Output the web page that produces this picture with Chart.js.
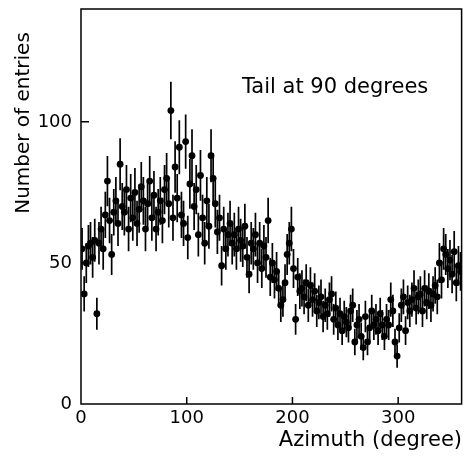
<!DOCTYPE html>
<html>
<head>
<meta charset="utf-8">
<script src="https://cdn.jsdelivr.net/npm/chart.js@4.4.1/dist/chart.umd.min.js"></script>
<style>
  html, body { margin: 0; padding: 0; background: #fff; }
  #wrap { width: 465px; height: 458px; }
</style>
</head>
<body>
<div id="wrap"><canvas id="azChart" width="465" height="458"></canvas></div>
<script>
// histogram: 2 degree bins, entries per bin
const binWidth = 2;
const entries = [
  55, 39, 50, 56, 57, 52, 58, 32, 57, 62,
  55, 67, 79, 65, 53, 68, 72, 64, 85, 70,
  68, 76, 62, 73, 66, 75, 64, 69, 77, 72,
  62, 71, 79, 66, 74, 62, 68, 72, 65, 76,
  80, 71, 104, 66, 84, 73, 91, 67, 64, 93,
  59, 78, 88, 70, 76, 60, 81, 66, 57, 72,
  63, 88, 80, 71, 61, 66, 49, 62, 55, 60,
  64, 57, 60, 55, 62, 58, 56, 63, 52, 46,
  57, 55, 60, 50, 57, 48, 56, 52, 65, 45,
  50, 44, 47, 41, 35, 37, 43, 53, 57, 62,
  48, 30, 45, 40, 41, 38, 43, 35, 42, 37,
  40, 33, 36, 38, 31, 35, 32, 37, 39, 30,
  34, 28, 32, 26, 31, 29, 27, 33, 35, 22,
  28, 30, 24, 20, 31, 22, 27, 33, 28, 30,
  26, 32, 28, 24, 30, 28, 37, 33, 22, 17,
  27, 35, 38, 26, 36, 33, 37, 41, 34, 38,
  39, 33, 41, 36, 40, 35, 39, 42, 38, 50,
  44, 55, 53, 48, 51, 46, 54, 43, 49, 47
];
const xTicks = [0, 100, 200, 300];
const yTicks = [0, 50, 100];
const xLabel = "Azimuth (degree)";
const yLabel = "Number of entries";
const note = "Tail at 90 degrees";

const binCentres = entries.map((_, i) => binWidth / 2 + i * binWidth);
const points = entries.map((n, i) => ({ x: binCentres[i], y: n, err: Math.sqrt(n) }));

// vertical statistical error bars, drawn under the markers
const errorBars = {
  id: "errorBars",
  beforeDatasetsDraw(chart) {
    const { ctx, scales: { x, y } } = chart;
    ctx.save();
    ctx.strokeStyle = "#000";
    ctx.lineWidth = 1.7;
    ctx.beginPath();
    points.forEach((p) => {
      const px = x.getPixelForValue(p.x);
      ctx.moveTo(px, y.getPixelForValue(p.y - p.err));
      ctx.lineTo(px, y.getPixelForValue(p.y + p.err));
      ctx.moveTo(x.getPixelForValue(p.x - binWidth / 2), y.getPixelForValue(p.y));
      ctx.lineTo(x.getPixelForValue(p.x + binWidth / 2), y.getPixelForValue(p.y));
    });
    ctx.stroke();
    ctx.restore();
  },
};

// box frame, inward ticks and the text labels
const frame = {
  id: "frame",
  afterDraw(chart) {
    const { ctx, chartArea: a, scales: { x, y } } = chart;
    ctx.save();
    ctx.strokeStyle = "#000";
    ctx.lineWidth = 1.5;
    ctx.strokeRect(a.left, a.top, a.right - a.left, a.bottom - a.top);
    ctx.beginPath();
    xTicks.slice(1).forEach((v) => {
      const px = x.getPixelForValue(v);
      ctx.moveTo(px, a.bottom);
      ctx.lineTo(px, a.bottom - 7);
    });
    yTicks.slice(1).forEach((v) => {
      const py = y.getPixelForValue(v);
      ctx.moveTo(a.left, py);
      ctx.lineTo(a.left + 8, py);
    });
    ctx.stroke();

    ctx.fillStyle = "#000";
    ctx.font = "21px 'DejaVu Sans'";
    ctx.textAlign = "right";
    ctx.textBaseline = "alphabetic";
    ctx.fillText(xLabel, 462, 446);
    ctx.textAlign = "left";
    ctx.fillText(note, 242, 93);

    ctx.font = "20px 'DejaVu Sans'";
    ctx.translate(29, 123);
    ctx.rotate(-Math.PI / 2);
    ctx.textAlign = "center";
    ctx.fillText(yLabel, 0, 0);
    ctx.restore();
  },
};

new Chart(document.getElementById("azChart").getContext("2d"), {
  type: "scatter",
  data: {
    datasets: [
      {
        label: "entries",
        data: points,
        pointRadius: 3.4,
        pointHoverRadius: 3.4,
        backgroundColor: "#000",
        borderColor: "#000",
        borderWidth: 0,
        showLine: false,
      },
    ],
  },
  options: {
    responsive: false,
    animation: false,
    layout: { padding: { top: 9, right: 2, left: 0, bottom: 0 } },
    plugins: {
      legend: { display: false },
      tooltip: { enabled: false },
    },
    scales: {
      x: {
        type: "linear",
        min: 0,
        max: 360,
        afterBuildTicks: (s) => { s.ticks = xTicks.map((v) => ({ value: v })); },
        afterFit: (s) => { s.height = 54; s.paddingLeft = 0; s.paddingRight = 0; },
        ticks: { color: "#000", font: { family: "DejaVu Sans", size: 18 }, padding: 4, autoSkip: false, maxRotation: 0 },
        grid: { display: false, drawTicks: false },
        border: { display: false },
      },
      y: {
        type: "linear",
        min: 0,
        max: 140,
        afterBuildTicks: (s) => { s.ticks = yTicks.map((v) => ({ value: v })); },
        afterFit: (s) => { s.width = 81; s.paddingTop = 0; s.paddingBottom = 0; },
        ticks: { color: "#000", font: { family: "DejaVu Sans", size: 18 }, padding: 9, autoSkip: false },
        grid: { display: false, drawTicks: false },
        border: { display: false },
      },
    },
  },
  plugins: [errorBars, frame],
});
</script>
</body>
</html>
